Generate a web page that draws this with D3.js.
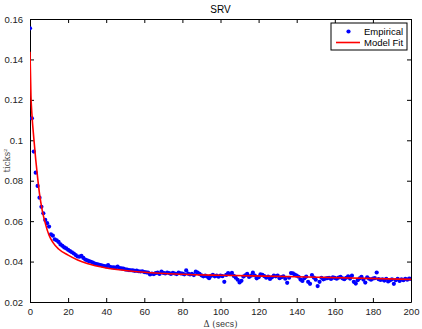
<!DOCTYPE html>
<html>
<head>
<meta charset="utf-8">
<script src="https://cdn.jsdelivr.net/npm/d3@7"></script>
<style>
    body { margin: 0; background: #fff; }
    text { font-family: "Liberation Sans", Arial, Helvetica, sans-serif; }
    .serif { font-family: "DejaVu Serif", "Liberation Serif", serif; }
</style>
</head>
<body>
<div id="chart"></div>
<script>
// Empirical SRV, one point per lag (0..200 secs)
var lags = d3.range(0, 201);
var empirical = [
    0.1554, 0.1109, 0.0944, 0.0840, 0.0774, 0.0716, 0.0671, 0.0639, 0.0606, 0.0590,
    0.0573, 0.0535, 0.0528, 0.0510, 0.0505, 0.0497, 0.0485, 0.0478, 0.0470, 0.0465,
    0.0458, 0.0452, 0.0446, 0.0440, 0.0432, 0.0425, 0.0424, 0.0428, 0.0418, 0.0410,
    0.0406, 0.0402, 0.0399, 0.0395, 0.0390, 0.0388, 0.0385, 0.0383, 0.0380, 0.0378,
    0.0376, 0.0382, 0.0374, 0.0372, 0.0371, 0.0370, 0.0375, 0.0368, 0.0366, 0.0365,
    0.0361, 0.0360, 0.0358, 0.0357, 0.0356, 0.0354, 0.0355, 0.0352, 0.0351, 0.0352,
    0.0348, 0.0347, 0.0345, 0.0336, 0.0340, 0.0338, 0.0343, 0.0345, 0.0339, 0.0350,
    0.0344, 0.0341, 0.0346, 0.0343, 0.0339, 0.0344, 0.0341, 0.0338, 0.0345, 0.0342,
    0.0340, 0.0337, 0.0356, 0.0340, 0.0336, 0.0339, 0.0333, 0.0350, 0.0345, 0.0339,
    0.0332, 0.0327, 0.0330, 0.0326, 0.0318, 0.0329, 0.0334, 0.0327, 0.0330, 0.0325,
    0.0331, 0.0328, 0.0300, 0.0334, 0.0343, 0.0338, 0.0344, 0.0329, 0.0320, 0.0310,
    0.0297, 0.0305, 0.0326, 0.0332, 0.0339, 0.0324, 0.0330, 0.0345, 0.0331, 0.0317,
    0.0323, 0.0337, 0.0334, 0.0328, 0.0320, 0.0326, 0.0314, 0.0322, 0.0330, 0.0327,
    0.0331, 0.0318, 0.0323, 0.0327, 0.0315, 0.0295, 0.0320, 0.0343, 0.0342, 0.0336,
    0.0330, 0.0325, 0.0311, 0.0304, 0.0318, 0.0326, 0.0300, 0.0290, 0.0333, 0.0321,
    0.0310, 0.0279, 0.0300, 0.0320, 0.0312, 0.0316, 0.0318, 0.0320, 0.0314, 0.0322,
    0.0319, 0.0315, 0.0321, 0.0324, 0.0317, 0.0313, 0.0320, 0.0327, 0.0316, 0.0330,
    0.0300, 0.0291, 0.0308, 0.0317, 0.0325, 0.0311, 0.0296, 0.0322, 0.0315, 0.0310,
    0.0316, 0.0318, 0.0346, 0.0313, 0.0309, 0.0312, 0.0306, 0.0315, 0.0302, 0.0307,
    0.0312, 0.0290, 0.0308, 0.0314, 0.0304, 0.0312, 0.0308, 0.0315, 0.0310, 0.0316,
    0.0314
];

var fitLags = [0, 0.5, 1, 2, 3, 4, 5, 6.5, 8, 10, 12, 15, 20, 25, 30, 40, 50, 60, 80, 100, 140, 200];
var fitValues = [0.1438, 0.1220, 0.1130, 0.1010, 0.0905, 0.0815, 0.0735, 0.0650, 0.0590, 0.0530,
    0.0495, 0.0462, 0.0432, 0.0408, 0.0390, 0.0368, 0.0356, 0.0347, 0.0337, 0.0332, 0.0325, 0.0312];

var xTicks = [0, 20, 40, 60, 80, 100, 120, 140, 160, 180, 200];
var yTicks = [0.02, 0.04, 0.06, 0.08, 0.1, 0.12, 0.14, 0.16];

var margin = {top: 19, right: 11, bottom: 27, left: 30},
    width = 422 - margin.left - margin.right,
    height = 329 - margin.top - margin.bottom;

var svg = d3.select('#chart').append('svg')
    .attr('width', 422)
    .attr('height', 329);

var g = svg.append('g')
    .attr('transform', 'translate(' + margin.left + ',' + margin.top + ')');

var x = d3.scaleLinear().domain([0, 200]).range([0, width]);
var y = d3.scaleLinear().domain([0.02, 0.16]).range([height, 0]);

// Clip so the marks stay inside the box
g.append('clipPath').attr('id', 'clip')
    .append('rect').attr('width', width).attr('height', height);

// Axes on all four sides, ticks pointing inwards (matlab style)
var tickFmt = function (d) { return d3.format('~g')(d); };
g.append('g')
    .attr('transform', 'translate(0,' + height + ')')
    .call(d3.axisBottom(x).tickValues(xTicks).tickSizeInner(-4).tickSizeOuter(0).tickPadding(6).tickFormat(tickFmt));
g.append('g')
    .call(d3.axisTop(x).tickValues(xTicks).tickSizeInner(-4).tickSizeOuter(0).tickFormat(''));
g.append('g')
    .call(d3.axisLeft(y).tickValues(yTicks).tickSizeInner(-4).tickSizeOuter(0).tickPadding(7).tickFormat(tickFmt));
g.append('g')
    .attr('transform', 'translate(' + width + ',0)')
    .call(d3.axisRight(y).tickValues(yTicks).tickSizeInner(-4).tickSizeOuter(0).tickFormat(''));

g.selectAll('.domain').attr('stroke', '#000');
g.selectAll('.tick line').attr('stroke', '#000');
g.selectAll('.tick text')
    .style('font-size', '9.5px')
    .attr('fill', '#222');

// Empirical dots
var plot = g.append('g').attr('clip-path', 'url(#clip)');
plot.selectAll('circle')
    .data(empirical)
    .enter()
    .append('circle')
    .attr('cx', function (d, i) { return x(lags[i]); })
    .attr('cy', function (d) { return y(d); })
    .attr('r', 2.1)
    .attr('fill', '#0000ff');

// Model fit line
var line = d3.line()
    .x(function (d, i) { return x(fitLags[i]); })
    .y(function (d) { return y(d); })
    .curve(d3.curveMonotoneX);
plot.append('path')
    .datum(fitValues)
    .attr('d', line)
    .attr('fill', 'none')
    .attr('stroke', '#ff0000')
    .attr('stroke-width', 1.6);

// Title and labels
svg.append('text')
    .attr('x', margin.left + width / 2)
    .attr('y', 13)
    .attr('text-anchor', 'middle')
    .style('font-size', '10px')
    .text('SRV');

svg.append('text')
    .attr('class', 'serif')
    .attr('x', margin.left + width / 2)
    .attr('y', 327)
    .attr('text-anchor', 'middle')
    .style('font-size', '8.5px')
    .attr('fill', '#333')
    .text('Δ (secs)');

svg.append('text')
    .attr('class', 'serif')
    .attr('transform', 'translate(10,' + (margin.top + height / 2) + ') rotate(-90)')
    .attr('text-anchor', 'middle')
    .style('font-size', '8.5px')
    .attr('fill', '#444')
    .text('ticks²');

// Legend
var legend = svg.append('g').attr('transform', 'translate(331,23)');
legend.append('rect')
    .attr('width', 76)
    .attr('height', 27)
    .attr('fill', '#fff')
    .attr('stroke', '#000')
    .attr('stroke-width', 1);
legend.append('circle')
    .attr('cx', 17.5).attr('cy', 8.5).attr('r', 2.1).attr('fill', '#0000ff');
legend.append('line')
    .attr('x1', 5).attr('x2', 29).attr('y1', 19.5).attr('y2', 19.5)
    .attr('stroke', '#ff0000').attr('stroke-width', 1.6);
legend.append('text')
    .attr('x', 33).attr('y', 12)
    .style('font-size', '9.5px')
    .text('Empirical');
legend.append('text')
    .attr('x', 33).attr('y', 23)
    .style('font-size', '9.5px')
    .text('Model Fit');
</script>
</body>
</html>
